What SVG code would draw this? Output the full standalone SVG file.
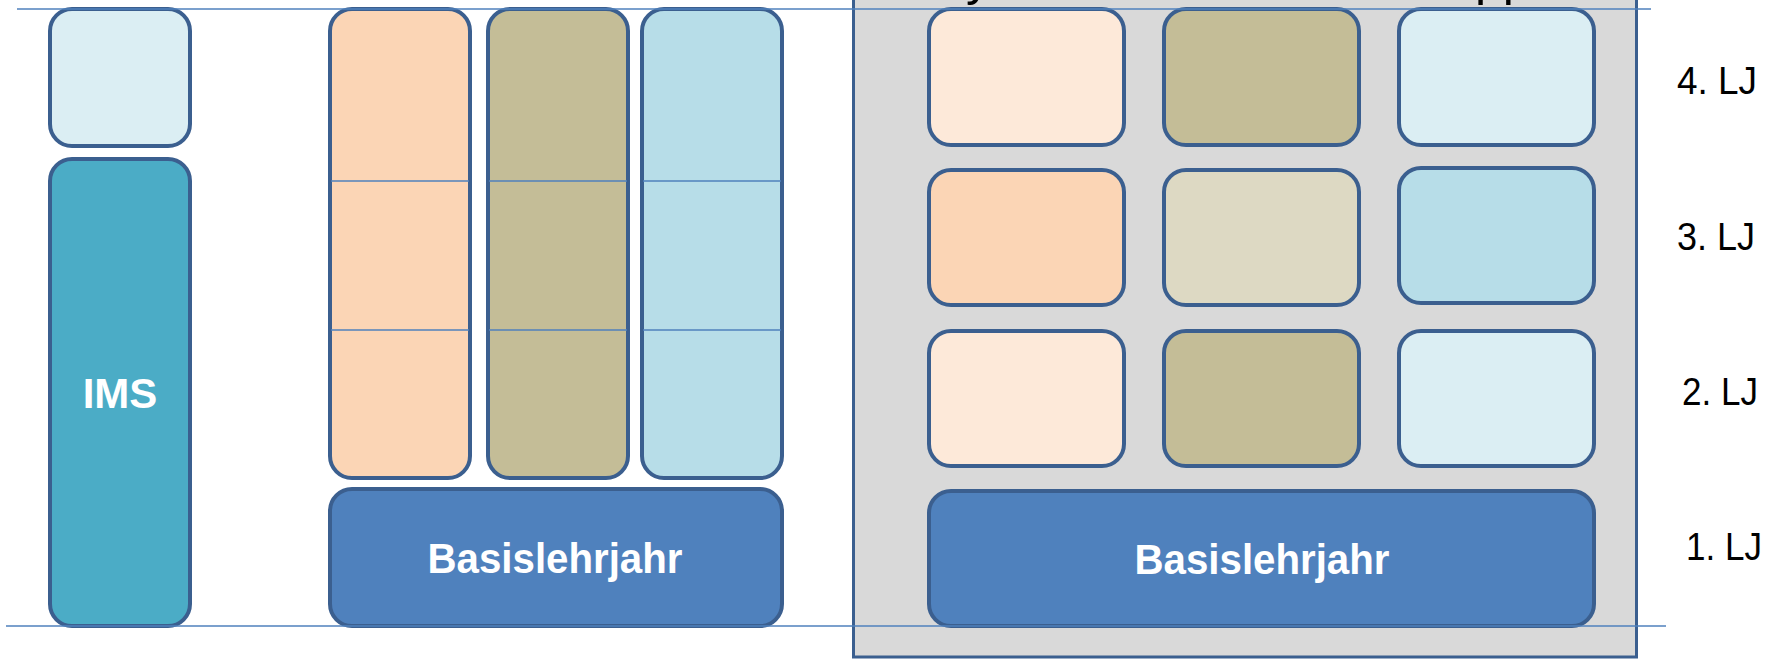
<svg xmlns="http://www.w3.org/2000/svg" width="1773" height="659" viewBox="0 0 1773 659">
<style>
.box{stroke:#3B5F8F;stroke-width:4}
.thin{stroke:#4F81BD;stroke-width:1.6;fill:none}
.lbl{font-family:"Liberation Sans",Arial,sans-serif;font-weight:bold;fill:#FFFFFF;text-anchor:middle}
.lj{font-family:"Liberation Sans",Arial,sans-serif;font-size:39px;fill:#000000}
.hd{font-family:"Liberation Sans",Arial,sans-serif;font-size:50px;fill:#000000}
</style>
<rect width="1773" height="659" fill="#FFFFFF"/>
<g id="panel">
<rect x="853.5" y="-10" width="783" height="667" fill="#D9D9D9" stroke="#3B5F8F" stroke-width="3"/>
<text class="hd" x="966" y="-5">y</text>
<text class="hd" x="1475" y="-5">pp</text>
</g>
<g id="top-left"><rect class="box" x="50" y="9" width="140" height="137" rx="22" fill="#DBEEF3"/></g>
<g id="ims"><rect class="box" x="50" y="159" width="140" height="467" rx="22" fill="#4BACC6"/>
<text class="lbl" x="120" y="408" font-size="42">IMS</text></g>
<g id="col-orange"><rect class="box" x="330" y="9" width="140" height="469" rx="22" fill="#FBD5B5"/></g>
<g id="col-olive"><rect class="box" x="488" y="9" width="140" height="469" rx="22" fill="#C4BD97"/></g>
<g id="col-blue"><rect class="box" x="642" y="9" width="140" height="469" rx="22" fill="#B7DDE8"/></g>
<g id="basis-left"><rect class="box" x="330" y="489" width="452" height="137" rx="22" fill="#4F81BD"/>
<text class="lbl" x="555" y="573" font-size="42" textLength="255" lengthAdjust="spacingAndGlyphs">Basislehrjahr</text></g>
<g id="r4c1"><rect class="box" x="929" y="9" width="195" height="136" rx="22" fill="#FDE9D9"/></g>
<g id="r4c2"><rect class="box" x="1164" y="9" width="195" height="136" rx="22" fill="#C4BD97"/></g>
<g id="r4c3"><rect class="box" x="1399" y="9" width="195" height="136" rx="22" fill="#DBEEF3"/></g>
<g id="r3c1"><rect class="box" x="929" y="170" width="195" height="135" rx="22" fill="#FBD5B5"/></g>
<g id="r3c2"><rect class="box" x="1164" y="170" width="195" height="135" rx="22" fill="#DDD9C3"/></g>
<g id="r3c3"><rect class="box" x="1399" y="168" width="195" height="135" rx="22" fill="#B7DDE8"/></g>
<g id="r2c1"><rect class="box" x="929" y="331" width="195" height="135" rx="22" fill="#FDE9D9"/></g>
<g id="r2c2"><rect class="box" x="1164" y="331" width="195" height="135" rx="22" fill="#C4BD97"/></g>
<g id="r2c3"><rect class="box" x="1399" y="331" width="195" height="135" rx="22" fill="#DBEEF3"/></g>
<g id="basis-right"><rect class="box" x="929" y="491" width="665" height="135" rx="22" fill="#4F81BD"/>
<text class="lbl" x="1262" y="574" font-size="42" textLength="255" lengthAdjust="spacingAndGlyphs">Basislehrjahr</text></g>
<g id="labels">
<text class="lj" x="1677" y="94" textLength="80" lengthAdjust="spacingAndGlyphs">4. LJ</text>
<text class="lj" x="1677" y="250" textLength="78" lengthAdjust="spacingAndGlyphs">3. LJ</text>
<text class="lj" x="1682" y="405" textLength="76" lengthAdjust="spacingAndGlyphs">2. LJ</text>
<text class="lj" x="1686" y="560" textLength="76" lengthAdjust="spacingAndGlyphs">1. LJ</text>
</g>
<g id="connectors">
<line class="thin" x1="17" y1="9" x2="1651" y2="9"/>
<line class="thin" x1="6" y1="626" x2="1666" y2="626"/>
<line class="thin" x1="331" y1="181" x2="469" y2="181"/>
<line class="thin" x1="489" y1="181" x2="627" y2="181"/>
<line class="thin" x1="643" y1="181" x2="781" y2="181"/>
<line class="thin" x1="331" y1="330" x2="469" y2="330"/>
<line class="thin" x1="489" y1="330" x2="627" y2="330"/>
<line class="thin" x1="643" y1="330" x2="781" y2="330"/>
</g>
</svg>
